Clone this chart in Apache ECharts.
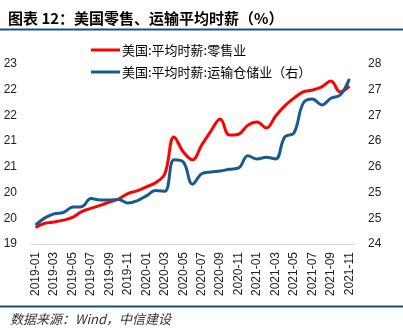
<!DOCTYPE html>
<html>
<head>
<meta charset="utf-8">
<script src="https://cdn.jsdelivr.net/npm/echarts@6/dist/echarts.min.js"></script>
<style>
  html, body { margin: 0; padding: 0; background: #fff; }
  #chart { width: 403px; height: 335px; }
</style>
</head>
<body>
<div id="chart"></div>
<script>
// Monthly categories
const months = [
  '2019-01','2019-02','2019-03','2019-04','2019-05','2019-06','2019-07','2019-08','2019-09','2019-10','2019-11','2019-12',
  '2020-01','2020-02','2020-03','2020-04','2020-05','2020-06','2020-07','2020-08','2020-09','2020-10','2020-11','2020-12',
  '2021-01','2021-02','2021-03','2021-04','2021-05','2021-06','2021-07','2021-08','2021-09','2021-10','2021-11'
];

// Average hourly earnings, retail trade (left axis)
const retail = [
  19.37, 19.46, 19.49, 19.53, 19.59, 19.72, 19.79, 19.86, 19.93, 20.00, 20.12, 20.18,
  20.27, 20.36, 20.56, 21.38, 21.05, 20.87, 21.20, 21.51, 21.78, 21.42, 21.44, 21.64,
  21.71, 21.58, 21.84, 22.07, 22.24, 22.38, 22.42, 22.49, 22.62, 22.38, 22.51
];

// Average hourly earnings, transportation and warehousing (right axis)
const transport = [
  24.42, 24.58, 24.67, 24.70, 24.82, 24.83, 25.01, 24.98, 24.98, 24.99, 24.91, 24.96,
  25.07, 25.19, 25.17, 25.87, 25.82, 25.33, 25.56, 25.60, 25.62, 25.66, 25.69, 25.96,
  25.89, 25.93, 25.89, 26.38, 26.47, 27.13, 27.22, 27.09, 27.24, 27.31, 27.67
];

// Tick labels (axis split into 7 equal steps, shown rounded)
const leftTicks = ['19', '20', '20', '21', '21', '22', '22', '23'];
const rightTicks = ['24', '25', '25', '26', '26', '27', '27', '28'];

const leftRange = [19, 23];
const rightRange = [24, 28];

const seriesNames = ['美国:平均时薪:零售业', '美国:平均时薪:运输仓储业（右）'];

const labelFont = 'Liberation Sans, Arial, sans-serif';
const cjkFont = '"Noto Sans CJK SC", sans-serif';

const chart = echarts.init(document.getElementById('chart'), null, { renderer: 'canvas' });

function labelAxis(position, ticks) {
  return {
    type: 'value',
    position: position,
    min: 0,
    max: ticks.length - 1,
    interval: 1,
    axisLine: { show: false },
    axisTick: { show: false },
    splitLine: { show: false },
    axisLabel: {
      margin: 14,
      fontSize: 12,
      fontFamily: labelFont,
      color: '#222',
      formatter: v => ticks[Math.round(v)]
    }
  };
}

chart.setOption({
  animation: false,
  backgroundColor: '#fff',
  title: {
    text: '图表 12：美国零售、运输平均时薪（%）',
    left: 3,
    top: 6,
    textStyle: { fontSize: 15, fontWeight: 'bold', color: '#000', fontFamily: cjkFont }
  },
  graphic: [
    { type: 'line', shape: { x1: 0, y1: 29.5, x2: 403, y2: 29.5 }, style: { stroke: '#1F4E79', lineWidth: 2 } },
    { type: 'line', shape: { x1: 0, y1: 306.5, x2: 403, y2: 306.5 }, style: { stroke: '#1F4E79', lineWidth: 2 } },
    {
      type: 'text', left: 10, top: 313,
      style: { text: '数据来源：Wind，中信建设', fontSize: 13, fontStyle: 'italic', fill: '#333', fontFamily: cjkFont }
    }
  ],
  legend: {
    orient: 'vertical',
    left: 86,
    top: 38,
    itemWidth: 29,
    itemHeight: 3,
    itemGap: 8,
    icon: 'rect',
    textStyle: { fontSize: 13, color: '#000', fontFamily: cjkFont, lineHeight: 14, padding: [0, 0, 0, -3] },
    data: seriesNames
  },
  grid: { left: 31, right: 49, top: 64, bottom: 91 },
  xAxis: {
    type: 'category',
    data: months,
    boundaryGap: true,
    axisLine: { onZero: false, lineStyle: { color: '#d9d9d9', width: 1 } },
    axisTick: { interval: 1, length: 5, lineStyle: { color: '#d9d9d9' } },
    axisLabel: { interval: 1, rotate: 90, margin: 8, fontSize: 12, fontFamily: labelFont, color: '#222' },
    splitLine: { show: false }
  },
  yAxis: [
    { type: 'value', position: 'left', min: leftRange[0], max: leftRange[1], show: false, splitLine: { show: false } },
    { type: 'value', position: 'right', min: rightRange[0], max: rightRange[1], show: false, splitLine: { show: false } },
    labelAxis('left', leftTicks),
    labelAxis('right', rightTicks)
  ],
  series: [
    {
      name: seriesNames[0],
      type: 'line',
      yAxisIndex: 0,
      data: retail,
      smooth: 0.4,
      symbol: 'none',
      lineStyle: { color: '#FF0000', width: 3 },
      itemStyle: { color: '#FF0000' }
    },
    {
      name: seriesNames[1],
      type: 'line',
      yAxisIndex: 1,
      data: transport,
      smooth: 0.4,
      symbol: 'none',
      lineStyle: { color: '#175B8C', width: 3 },
      itemStyle: { color: '#175B8C' }
    }
  ]
});
</script>
</body>
</html>
